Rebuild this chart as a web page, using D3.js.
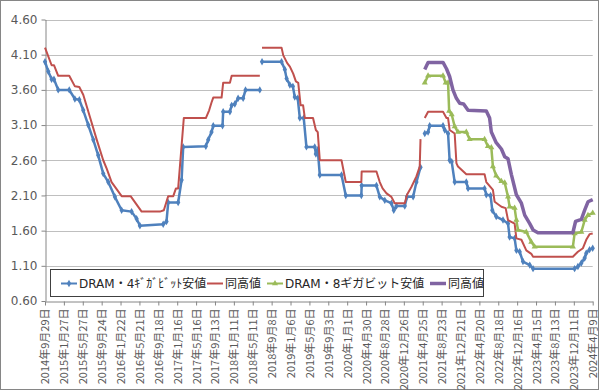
<!DOCTYPE html>
<html>
<head>
<meta charset="utf-8">
<script src="https://cdn.jsdelivr.net/npm/d3@7"></script>
<style>
  body { margin: 0; background: #fff; }
  svg { display: block; }
  .axis text { fill: #595959; }
  .axis path, .axis line { stroke: #868686; }
</style>
</head>
<body>
<div id="chart"></div>
<script>
// x axis tick dates (every 120 days, as in the source sheet)
const tickDates = ['2014-09-29', '2015-01-27', '2015-05-27', '2015-09-24', '2016-01-22', '2016-05-21',
  '2016-09-18', '2017-01-16', '2017-05-16', '2017-09-13', '2018-01-11', '2018-05-11', '2018-09-08',
  '2019-01-06', '2019-05-06', '2019-09-03', '2020-01-01', '2020-04-30', '2020-08-28', '2020-12-26',
  '2021-04-25', '2021-08-23', '2021-12-21', '2022-04-20', '2022-08-18', '2022-12-16', '2023-04-15',
  '2023-08-13', '2023-12-11', '2024-04-09']

const yTicks = [0.6, 1.1, 1.6, 2.1, 2.6, 3.1, 3.6, 4.1, 4.6]

const seriesNames = ['DRAM・4ｷﾞｶﾞﾋﾞｯﾄ安値', '同高値', 'DRAM・8ギガビット安値', '同高値']

// null = gap in the data
const low4 = [
  ['2014-09-29', 4.00], ['2014-10-20', 3.86], ['2014-11-10', 3.75], ['2014-11-25', 3.75], ['2014-12-22', 3.60],
  ['2015-03-02', 3.60], ['2015-04-07', 3.47], ['2015-05-05', 3.46], ['2015-05-30', 3.31], ['2015-07-01', 3.10],
  ['2015-08-02', 2.89], ['2015-09-02', 2.67], ['2015-10-04', 2.41], ['2015-11-05', 2.29], ['2015-12-17', 2.08],
  ['2016-01-29', 1.89], ['2016-04-01', 1.87], ['2016-05-03', 1.77], ['2016-05-24', 1.67], ['2016-10-19', 1.69],
  ['2016-11-09', 1.73], ['2016-11-20', 2.00], ['2017-01-22', 2.00], ['2017-02-13', 2.32], ['2017-02-23', 2.79],
  ['2017-07-17', 2.80], ['2017-08-01', 2.89], ['2017-08-22', 3.00], ['2017-09-02', 3.09], ['2017-10-31', 3.09],
  ['2017-11-04', 3.29], ['2017-12-17', 3.29], ['2017-12-28', 3.38], ['2018-01-17', 3.40], ['2018-02-07', 3.48],
  ['2018-03-11', 3.48], ['2018-03-26', 3.60], ['2018-06-25', 3.60],
  null,
  ['2018-07-09', 4.00], ['2018-11-10', 4.00], ['2018-12-01', 3.89], ['2018-12-12', 3.76], ['2019-01-02', 3.67],
  ['2019-01-21', 3.65], ['2019-02-02', 3.50], ['2019-02-21', 3.48], ['2019-03-06', 3.20], ['2019-03-31', 3.20],
  ['2019-04-17', 2.79], ['2019-06-09', 2.79], ['2019-06-16', 2.69], ['2019-06-28', 2.75], ['2019-07-11', 2.39],
  ['2019-11-26', 2.39], ['2019-12-23', 2.10], ['2020-03-31', 2.10], ['2020-04-02', 2.24], ['2020-07-05', 2.24],
  ['2020-07-26', 2.08], ['2020-08-27', 2.03], ['2020-10-08', 1.99], ['2020-10-23', 1.89], ['2020-11-09', 1.95],
  ['2021-01-01', 1.95], ['2021-01-15', 2.08], ['2021-02-23', 2.08], ['2021-03-16', 2.29], ['2021-04-11', 2.50],
  null,
  ['2021-05-08', 2.98], ['2021-05-29', 3.00], ['2021-06-08', 3.09], ['2021-09-01', 3.09], ['2021-09-12', 3.03],
  ['2021-10-03', 2.98], ['2021-10-13', 2.60], ['2021-10-26', 2.58], ['2021-11-14', 2.29], ['2022-01-27', 2.29],
  ['2022-02-07', 2.20], ['2022-05-23', 2.20], ['2022-06-03', 2.11], ['2022-06-30', 2.10], ['2022-07-11', 1.89],
  ['2022-08-05', 1.80], ['2022-09-17', 1.75], ['2022-10-19', 1.70], ['2022-10-29', 1.51], ['2022-11-30', 1.49],
  ['2022-12-11', 1.32], ['2023-01-01', 1.30], ['2023-01-22', 1.16], ['2023-03-06', 1.11], ['2023-03-27', 1.06],
  ['2023-12-16', 1.06], ['2024-01-06', 1.09], ['2024-01-28', 1.14], ['2024-02-18', 1.21], ['2024-02-28', 1.28],
  ['2024-03-20', 1.33], ['2024-04-09', 1.35]
]

const high4 = [
  ['2014-09-29', 4.20], ['2014-11-10', 3.95], ['2014-11-25', 3.95], ['2014-12-22', 3.80], ['2015-03-02', 3.80],
  ['2015-04-07', 3.65], ['2015-05-05', 3.64], ['2015-05-30', 3.53], ['2015-07-12', 3.21], ['2015-08-24', 2.89],
  ['2015-10-04', 2.60], ['2015-10-26', 2.48], ['2015-11-26', 2.29], ['2015-12-28', 2.19], ['2016-01-29', 2.09],
  ['2016-03-26', 2.09], ['2016-06-04', 1.87], ['2016-09-28', 1.87], ['2016-10-23', 1.89], ['2016-11-20', 2.09],
  ['2016-12-22', 2.09], ['2017-01-08', 2.20], ['2017-01-22', 2.20], ['2017-02-27', 3.20], ['2017-07-17', 3.20],
  ['2017-08-07', 3.31], ['2017-08-22', 3.42], ['2017-09-02', 3.49], ['2017-10-25', 3.49], ['2017-11-04', 3.70],
  ['2017-12-17', 3.70], ['2017-12-28', 3.80], ['2018-06-25', 3.80],
  null,
  ['2018-07-09', 4.20], ['2018-11-10', 4.20], ['2018-11-21', 4.09], ['2018-12-16', 3.98], ['2019-01-02', 3.93],
  ['2019-01-23', 3.83], ['2019-02-09', 3.72], ['2019-02-24', 3.70], ['2019-03-11', 3.38], ['2019-03-27', 3.38],
  ['2019-04-07', 3.20], ['2019-05-29', 3.20], ['2019-06-16', 3.03], ['2019-06-28', 3.00], ['2019-07-11', 2.60],
  ['2019-11-26', 2.60], ['2019-12-23', 2.29], ['2020-03-31', 2.29], ['2020-04-02', 2.44], ['2020-07-05', 2.44],
  ['2020-07-26', 2.29], ['2020-08-13', 2.20], ['2020-09-07', 2.13], ['2020-10-08', 2.08], ['2020-10-29', 1.99],
  ['2021-01-01', 1.99], ['2021-01-15', 2.11], ['2021-02-12', 2.22], ['2021-03-16', 2.37], ['2021-04-06', 2.51],
  ['2021-04-11', 2.90],
  null,
  ['2021-05-08', 3.20], ['2021-05-29', 3.29], ['2021-09-01', 3.29], ['2021-09-23', 3.20], ['2021-10-03', 3.20],
  ['2021-10-13', 3.03], ['2021-11-14', 2.98], ['2021-11-25', 2.56], ['2021-12-05', 2.51], ['2022-01-27', 2.40],
  ['2022-05-23', 2.40], ['2022-06-03', 2.29], ['2022-07-15', 2.18], ['2022-07-26', 2.01], ['2022-09-07', 1.94],
  ['2022-10-04', 1.92], ['2022-10-19', 1.75], ['2022-11-30', 1.70], ['2022-12-11', 1.49], ['2023-01-12', 1.47],
  ['2023-02-12', 1.32], ['2023-03-16', 1.27], ['2023-03-27', 1.23], ['2023-12-05', 1.23], ['2024-01-06', 1.30],
  ['2024-02-07', 1.35], ['2024-02-28', 1.47], ['2024-03-20', 1.55], ['2024-04-09', 1.56]
]

const low8 = [
  ['2021-05-08', 3.70], ['2021-05-29', 3.80], ['2021-09-01', 3.80], ['2021-09-18', 3.70], ['2021-10-03', 3.70],
  ['2021-10-10', 3.30], ['2021-10-26', 3.25], ['2021-11-14', 3.08], ['2021-12-05', 3.00], ['2022-01-27', 3.00],
  ['2022-02-17', 2.90], ['2022-05-23', 2.90], ['2022-06-13', 2.80], ['2022-07-05', 2.78], ['2022-07-15', 2.51],
  ['2022-08-05', 2.38], ['2022-09-07', 2.30], ['2022-09-28', 2.28], ['2022-10-19', 2.08], ['2022-10-29', 1.94],
  ['2022-11-30', 1.92], ['2022-12-11', 1.75], ['2022-12-21', 1.61], ['2023-02-12', 1.58], ['2023-03-16', 1.44],
  ['2023-04-06', 1.37], ['2023-12-05', 1.37], ['2023-12-16', 1.56], ['2024-01-28', 1.58], ['2024-02-18', 1.75],
  ['2024-03-10', 1.82], ['2024-04-09', 1.85]
]

const high8 = [
  ['2021-05-08', 3.89], ['2021-05-29', 3.99], ['2021-09-01', 3.99], ['2021-09-23', 3.90], ['2021-10-13', 3.79],
  ['2021-11-03', 3.60], ['2021-11-25', 3.48], ['2021-12-16', 3.41], ['2022-01-10', 3.40], ['2022-02-07', 3.31],
  ['2022-06-03', 3.30], ['2022-06-24', 3.20], ['2022-07-05', 3.00], ['2022-08-05', 2.85], ['2022-09-07', 2.76],
  ['2022-09-28', 2.65], ['2022-10-19', 2.62], ['2022-11-09', 2.40], ['2022-12-11', 2.11], ['2023-01-12', 1.99],
  ['2023-02-02', 1.82], ['2023-03-06', 1.70], ['2023-03-27', 1.61], ['2023-04-27', 1.57], ['2023-12-05', 1.57],
  ['2023-12-22', 1.73], ['2024-01-28', 1.76], ['2024-02-18', 1.89], ['2024-03-10', 2.01], ['2024-04-09', 2.04]
]

const parse = d3.utcParse('%Y-%m-%d')
const toPoints = (arr) => arr.map(d => d ? { date: parse(d[0]), value: d[1] } : null)

const W = 600
const H = 391
const plot = { left: 45, right: 592.7, top: 19.5, bottom: 301 }

const xScale = d3.scaleUtc()
  .domain([parse(tickDates[0]), parse(tickDates[tickDates.length - 1])])
  .range([plot.left, plot.right])

const yScale = d3.scaleLinear()
  .domain([0.6, 4.6])
  .range([plot.bottom, plot.top])

const svg = d3.select('#chart').append('svg')
  .attr('width', W)
  .attr('height', H)

// chart border
svg.append('rect')
  .attr('x', 0.5).attr('y', 0.5)
  .attr('width', W - 2).attr('height', H - 2)
  .attr('fill', '#fff')
  .attr('stroke', '#868686')

// gridlines
svg.append('g')
  .selectAll('line')
  .data(yTicks.slice(1))
  .enter().append('line')
  .attr('x1', plot.left).attr('x2', plot.right)
  .attr('y1', d => Math.round(yScale(d)) + 0.5)
  .attr('y2', d => Math.round(yScale(d)) + 0.5)
  .attr('stroke', '#bfbfbf')

// y axis
const yAxis = svg.append('g')
  .attr('class', 'axis')
  .attr('transform', `translate(${plot.left + 0.5},0)`)
  .call(d3.axisLeft(yScale).tickValues(yTicks).tickFormat(d3.format('.2f')).tickSize(4).tickSizeOuter(0))
yAxis.selectAll('text')
  .attr('font-family', 'DejaVu Sans, Verdana, sans-serif')
  .attr('font-size', 12)
  .attr('x', -8)

// x axis
const xAxis = svg.append('g')
  .attr('class', 'axis')
  .attr('transform', `translate(0,${plot.bottom + 0.5})`)
  .call(d3.axisBottom(xScale)
    .tickValues(tickDates.map(parse))
    .tickFormat(d3.utcFormat('%Y年%-m月%-d日'))
    .tickSize(4)
    .tickSizeOuter(0))
xAxis.selectAll('text')
  .attr('font-family', '"Noto Sans CJK JP", sans-serif')
  .attr('font-size', 11)
  .attr('transform', 'rotate(-90)')
  .attr('text-anchor', 'end')
  .attr('x', -7)
  .attr('y', 0)
  .attr('dy', '0.36em')

const line = d3.line()
  .defined(d => d !== null)
  .x(d => xScale(d.date))
  .y(d => yScale(d.value))

const series = [
  { data: toPoints(low4), color: '#4f81bd', width: 2.5, marker: d3.symbolDiamond },
  { data: toPoints(high4), color: '#c0504d', width: 2, marker: null },
  { data: toPoints(low8), color: '#9bbb59', width: 2.5, marker: d3.symbolTriangle },
  { data: toPoints(high8), color: '#8064a2', width: 3.5, marker: null }
]

series.forEach((s) => {
  svg.append('path')
    .datum(s.data)
    .attr('fill', 'none')
    .attr('stroke', s.color)
    .attr('stroke-width', s.width)
    .attr('stroke-linejoin', 'round')
    .attr('d', line)

  if (s.marker) {
    svg.append('g')
      .selectAll('path')
      .data(s.data.filter(d => d !== null))
      .enter().append('path')
      .attr('transform', d => `translate(${xScale(d.date)},${yScale(d.value)})`)
      .attr('d', d3.symbol().type(s.marker).size(16))
      .attr('fill', s.color)
  }
})

// legend
const legend = svg.append('g')
legend.append('rect')
  .attr('x', 50.5).attr('y', 269.5)
  .attr('width', 433).attr('height', 27)
  .attr('fill', '#fff')
  .attr('stroke', '#404040')

const legendX = [61, 207, 267, 430]
series.forEach((s, i) => {
  const lx = legendX[i]
  const ly = 283.5
  legend.append('line')
    .attr('x1', lx).attr('x2', lx + 16)
    .attr('y1', ly).attr('y2', ly)
    .attr('stroke', s.color)
    .attr('stroke-width', s.width === 2.5 ? 2 : s.width)
  if (s.marker) {
    legend.append('path')
      .attr('transform', `translate(${lx + 8},${ly})`)
      .attr('d', d3.symbol().type(s.marker).size(16))
      .attr('fill', s.color)
  }
  legend.append('text')
    .attr('x', lx + 18)
    .attr('y', ly)
    .attr('dy', '0.35em')
    .attr('font-family', 'DejaVu Sans, "Noto Sans CJK JP", sans-serif')
    .attr('font-size', 12)
    .attr('fill', '#262626')
    .text(seriesNames[i])
})
</script>
</body>
</html>
